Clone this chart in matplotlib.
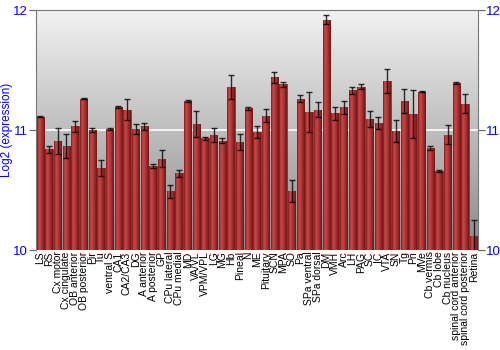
import numpy as np
import matplotlib
matplotlib.use("Agg")
import matplotlib.pyplot as plt
from matplotlib.colors import LinearSegmentedColormap

plt.rcParams['font.family'] = ['Liberation Sans', 'DejaVu Sans']

regions = ["LS", "RS", "Cx motor", "Cx cingulate", "OB anterior", "OB posterior",
           "Pir", "Tu", "ventral S", "CA1", "CA2/CA3", "DG", "A anterior",
           "A posterior", "GP", "CPu lateral", "CPu medial", "MD", "VA/VL",
           "VPM/VPL", "LG", "MG", "Hb", "Pineal", "N", "ME", "Pituitary", "SCN",
           "MPA", "SO", "Pa", "SPa ventral", "SPa dorsal", "DM", "VMH", "Arc",
           "LH", "PAG", "SC", "IC", "VTA", "SN", "Tg", "Pn", "MVe", "Cb vermis",
           "Cb lobe", "Cb nucleus", "spinal cord anterior",
           "spinal cord posterior", "Retina"]
expression = [11.11, 10.84, 10.91, 10.87, 11.03, 11.26, 11.00, 10.68, 11.01,
              11.19, 11.17, 11.01, 11.03, 10.70, 10.76, 10.49, 10.64, 11.24,
              11.05, 10.93, 10.96, 10.91, 11.36, 10.90, 11.18, 10.98, 11.12,
              11.44, 11.38, 10.49, 11.26, 11.15, 11.17, 11.92, 11.14, 11.19,
              11.33, 11.36, 11.09, 11.06, 11.41, 10.99, 11.24, 11.13, 11.32,
              10.85, 10.66, 10.96, 11.39, 11.22, 10.12]
errors = [0.005, 0.03, 0.11, 0.10, 0.045, 0.005, 0.015, 0.067, 0.01, 0.01,
          0.09, 0.04, 0.03, 0.02, 0.07, 0.055, 0.03, 0.01, 0.11, 0.01, 0.06,
          0.02, 0.10, 0.07, 0.01, 0.05, 0.055, 0.046, 0.02, 0.09, 0.03, 0.17,
          0.06, 0.04, 0.054, 0.055, 0.03, 0.02, 0.065, 0.05, 0.10, 0.09, 0.10,
          0.20, 0.005, 0.02, 0.01, 0.08, 0.01, 0.078, 0.13]
base = 10

fig = plt.figure(figsize=(5, 3.5), dpi=100)
ax = fig.add_axes([0.072, 0.2857, 0.884, 0.6857])

x = np.arange(len(regions))
vals = np.array(expression)

# gray vertical gradient background
bg = LinearSegmentedColormap.from_list("bg", ["#8a8a8a", "#f2f2f2"])
ax.imshow(np.linspace(0, 1, 256).reshape(-1, 1), extent=[-0.5, len(regions) - 0.5, 10, 12],
          origin="lower", aspect="auto", cmap=bg, zorder=0)
ax.axhline(11, color="white", lw=1.2, zorder=1)

bars = ax.bar(x, vals - base, bottom=base, width=0.86, color="#b03030",
              edgecolor="#6a1414", linewidth=0.4, zorder=2)

red = LinearSegmentedColormap.from_list("red", ["#7e1c1c", "#c84848", "#b83a3a", "#962828", "#6e1616"])
grad = np.linspace(0, 1, 64).reshape(1, -1)
for b in bars:
    x0, y0 = b.get_x(), b.get_y()
    im = ax.imshow(grad, extent=[x0, x0 + b.get_width(), y0, y0 + b.get_height()],
                   aspect="auto", cmap=red, zorder=2.5)
    im.set_clip_path(b)

ax.errorbar(x, vals, yerr=errors, fmt="none", ecolor="black", elinewidth=1,
            capsize=2.2, capthick=1, alpha=0.8, zorder=3)

ax.set_xlim(-0.5, len(regions) - 0.5)
ax.set_ylim(10, 12)
ax.set_yticks([10, 11, 12])
ax.set_xticks(x)
ax.set_xticklabels(regions, rotation=90, fontsize=7.5)
ax.tick_params(axis="x", length=0, pad=1)
ax.tick_params(axis="y", labelsize=9.5, labelcolor="blue", color="#666666",
               length=5, right=True, labelright=True, pad=1)
ax.set_ylabel("Log2 (expression)", color="blue", fontsize=8.5)
ax.yaxis.set_label_coords(-0.053, 0.5)
for s in ["left", "right", "top"]:
    ax.spines[s].set_color("#777777")
ax.spines["bottom"].set_visible(False)

fig.savefig("out.png", dpi=100)
